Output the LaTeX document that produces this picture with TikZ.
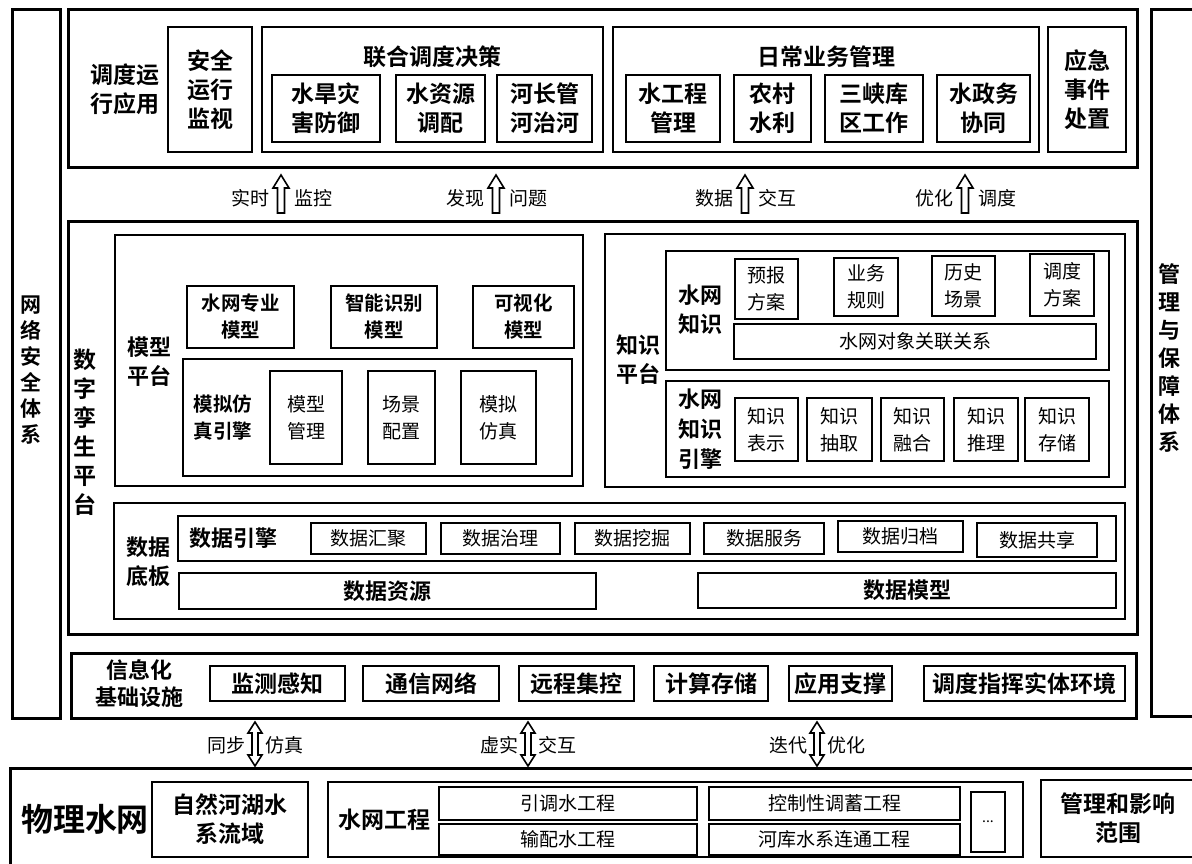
\documentclass[tikz,border=0pt]{standalone}
\usepackage{fontspec}
\setmainfont{Noto Sans CJK SC}[BoldFont={Noto Sans CJK SC Bold}]
\newcommand\fz[2]{\fontsize{#1}{#2}\selectfont}
\newcommand\Bx[7]{\node[#1, anchor=north west, minimum width={#5-#3}, minimum height={#6-#4}] (#2) at (#3,#4) {#7};}
\newcommand\UpArr[1]{\draw[arr] (#1-3.5,213) -- (#1-3.5,188) -- (#1-8,188) -- (#1,175) -- (#1+8,188) -- (#1+3.5,188) -- (#1+3.5,213) -- cycle;}
\newcommand\DArr[1]{\draw[arr] (#1,722) -- (#1+7,733) -- (#1+3,733) -- (#1+3,755) -- (#1+7,755) -- (#1,766) -- (#1-7,755) -- (#1-3,755) -- (#1-3,733) -- (#1-7,733) -- cycle;}
\tikzset{
  bx/.style={draw, inner sep=0, outer sep=0, align=center},
  T/.style={bx, line width=3pt},
  M/.style={bx, line width=2pt},
  S/.style={bx, line width=1.2pt},
  txt/.style={inner sep=0, outer sep=0, align=center},
  arr/.style={draw, line width=1.6pt, fill=white, line join=miter},
  hA/.style={font=\bfseries\fz{23}{29}},
  hP/.style={font=\bfseries\fz{22}{29}},
  hM/.style={font=\bfseries\fz{19.5}{27}},
  rS/.style={font=\fz{19}{27}},
  vL/.style={font=\bfseries\fz{22}{28}},
}
\begin{document}
\begin{tikzpicture}[x=1pt,y=-1pt]
\useasboundingbox (0,0) rectangle (1192,864);
\clip (0,0) rectangle (1192,864);
% side panels
\Bx{T}{net}{12}{10}{60}{718}{}
\node[txt, font=\bfseries\fz{21}{26}] (netL) at (31,370) {网\\络\\安\\全\\体\\系};
\Bx{T}{mgmt}{1151}{10}{1210}{716}{}
\node[txt, vL] (mgmtL) at (1169,358) {管\\理\\与\\保\\障\\体\\系};
% top application layer
\Bx{T}{app}{68}{10}{1137}{168}{}
\node[txt, hA] (appL) at (125,89) {调度运\\行应用};
\Bx{S,hA}{safe}{168}{27}{252}{152}{安全\\运行\\监视}
\Bx{S}{joint}{262}{27}{603}{152}{}
\node[txt, hA] (jointL) at (432,57) {联合调度决策};
\Bx{S,hA}{j1}{272}{75}{380}{142}{水旱灾\\害防御}
\Bx{S,hA}{j2}{396}{75}{485}{142}{水资源\\调配}
\Bx{S,hA}{j3}{497}{75}{592}{142}{河长管\\河治河}
\Bx{S}{daily}{613}{27}{1039}{152}{}
\node[txt, hA] (dailyL) at (826,57) {日常业务管理};
\Bx{S,hA}{d1}{626}{75}{720}{142}{水工程\\管理}
\Bx{S,hA}{d2}{734}{75}{811}{142}{农村\\水利}
\Bx{S,hA}{d3}{825}{75}{923}{142}{三峡库\\区工作}
\Bx{S,hA}{d4}{937}{75}{1030}{142}{水政务\\协同}
\Bx{S,hA}{emg}{1048}{27}{1126}{152}{应急\\事件\\处置}
% up arrows
\UpArr{281}\UpArr{496}\UpArr{745}\UpArr{965}
\node[txt, rS, anchor=east] (u1a) at (269,198) {实时};
\node[txt, rS, anchor=west] (u1b) at (294,198) {监控};
\node[txt, rS, anchor=east] (u2a) at (484,198) {发现};
\node[txt, rS, anchor=west] (u2b) at (509,198) {问题};
\node[txt, rS, anchor=east] (u3a) at (733,198) {数据};
\node[txt, rS, anchor=west] (u3b) at (758,198) {交互};
\node[txt, rS, anchor=east] (u4a) at (953,198) {优化};
\node[txt, rS, anchor=west] (u4b) at (978,198) {调度};
% digital twin platform
\Bx{T}{dt}{68}{221}{1137}{634}{}
\node[txt, font=\bfseries\fz{23}{29}] (dtL) at (85,432) {数\\字\\孪\\生\\平\\台};
% model platform
\Bx{M}{mp}{115}{235}{583}{486}{}
\node[txt, hP] (mpL) at (149,362) {模型\\平台};
\Bx{S,hM}{m1}{187}{286}{294}{348}{水网专业\\模型}
\Bx{S,hM}{m2}{331}{286}{437}{348}{智能识别\\模型}
\Bx{S,hM}{m3}{473}{286}{574}{348}{可视化\\模型}
\Bx{S}{sim}{183}{359}{572}{476}{}
\node[txt, hM] (simL) at (223,418) {模拟仿\\真引擎};
\Bx{S,rS}{s1}{270}{371}{342}{464}{模型\\管理}
\Bx{S,rS}{s2}{368}{371}{435}{464}{场景\\配置}
\Bx{S,rS}{s3}{461}{371}{536}{464}{模拟\\仿真}
% knowledge platform
\Bx{M}{kp}{605}{234}{1125}{487}{}
\node[txt, hP] (kpL) at (638,360) {知识\\平台};
\Bx{S}{kn}{666}{251}{1109}{370}{}
\node[txt, hP] (knL) at (700,310) {水网\\知识};
\Bx{S,rS}{k1}{735}{259}{798}{319}{预报\\方案}
\Bx{S,rS}{k2}{834}{258}{898}{316}{业务\\规则}
\Bx{S,rS}{k3}{932}{256}{995}{316}{历史\\场景}
\Bx{S,rS}{k4}{1030}{254}{1094}{316}{调度\\方案}
\Bx{S,rS}{k5}{734}{324}{1096}{359}{水网对象关联关系}
\Bx{S}{ke}{666}{381}{1109}{477}{}
\node[txt, font=\bfseries\fz{22}{30}] (keL) at (700,429) {水网\\知识\\引擎};
\Bx{S,rS}{e1}{735}{398}{798}{461}{知识\\表示}
\Bx{S,rS}{e2}{807}{398}{872}{461}{知识\\抽取}
\Bx{S,rS}{e3}{881}{398}{944}{461}{知识\\融合}
\Bx{S,rS}{e4}{954}{398}{1018}{461}{知识\\推理}
\Bx{S,rS}{e5}{1025}{398}{1089}{461}{知识\\存储}
% data baseboard
\Bx{M}{db}{114}{503}{1125}{619}{}
\node[txt, hP] (dbL) at (148,562) {数据\\底板};
\Bx{S}{de}{178}{516}{1116}{561}{}
\node[txt, hP] (deL) at (233,538) {数据引擎};
\Bx{S,rS}{de1}{311}{523}{426}{554}{数据汇聚}
\Bx{S,rS}{de2}{441}{523}{560}{554}{数据治理}
\Bx{S,rS}{de3}{575}{523}{690}{554}{数据挖掘}
\Bx{S,rS}{de4}{704}{523}{824}{554}{数据服务}
\Bx{S,rS}{de5}{838}{521}{963}{552}{数据归档}
\Bx{S,rS}{de6}{977}{523}{1097}{557}{数据共享}
\Bx{S,hP}{dr}{179}{573}{596}{609}{数据资源}
\Bx{S,hP}{dm}{698}{573}{1116}{608}{数据模型}
% information infrastructure
\Bx{T}{inf}{71}{653}{1136}{718}{}
\node[txt, font=\bfseries\fz{22}{27}] (infL) at (139,684) {信息化\\基础设施};
\Bx{S,hA}{i1}{210}{666}{345}{701}{监测感知}
\Bx{S,hA}{i2}{363}{666}{499}{701}{通信网络}
\Bx{S,hA}{i3}{519}{666}{634}{701}{远程集控}
\Bx{S,hA}{i4}{654}{666}{768}{701}{计算存储}
\Bx{S,hA}{i5}{789}{666}{892}{701}{应用支撑}
\Bx{S,hA}{i6}{924}{666}{1125}{701}{调度指挥实体环境}
% double arrows
\DArr{255}\DArr{528}\DArr{817}
\node[txt, rS, anchor=east] (b1a) at (245,745) {同步};
\node[txt, rS, anchor=west] (b1b) at (265,745) {仿真};
\node[txt, rS, anchor=east] (b2a) at (518,745) {虚实};
\node[txt, rS, anchor=west] (b2b) at (538,745) {交互};
\node[txt, rS, anchor=east] (b3a) at (807,745) {迭代};
\node[txt, rS, anchor=west] (b3b) at (827,745) {优化};
% physical water network
\Bx{T}{phy}{10}{768}{1220}{890}{}
\node[txt, font=\bfseries\fz{32}{36}] (phyL) at (85,819) {物理水网};
\Bx{S,hA}{nat}{152}{782}{308}{857}{自然河湖水\\系流域}
\Bx{S}{eng}{328}{782}{1023}{857}{}
\node[txt, hA] (engL) at (384,820) {水网工程};
\Bx{S,rS}{g1}{439}{787}{697}{820}{引调水工程}
\Bx{S,rS}{g2}{439}{824}{697}{855}{输配水工程}
\Bx{S,rS}{g3}{709}{787}{960}{820}{控制性调蓄工程}
\Bx{S,rS}{g4}{709}{824}{960}{855}{河库水系连通工程}
\Bx{S,font=\fz{14}{16}}{g5}{971}{792}{1005}{852}{...}
\Bx{S}{scope}{1041}{780}{1215}{857}{}
\node[txt, hA] (scopeL) at (1118,818) {管理和影响\\范围};
\end{tikzpicture}
\end{document}
